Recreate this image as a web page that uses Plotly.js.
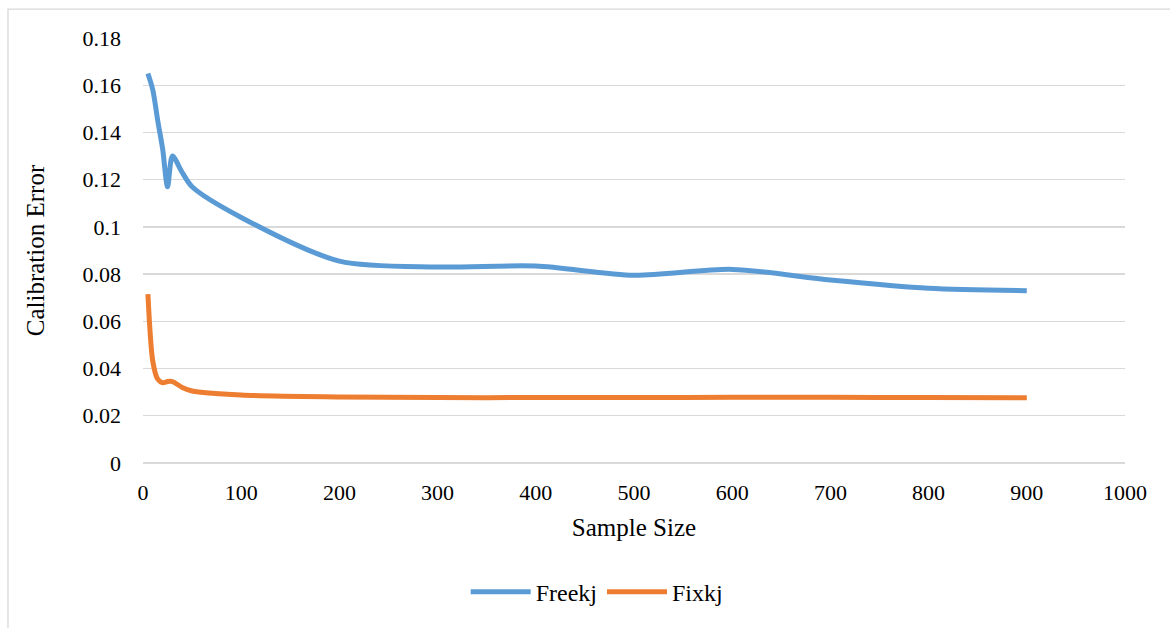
<!DOCTYPE html>
<html>
<head>
<meta charset="utf-8">
<script src="https://cdn.plot.ly/plotly-3.0.1.min.js"></script>
<style>html,body{margin:0;padding:0;background:#fff;}#chart{width:1170px;height:628px;}</style>
</head>
<body>
<div id="chart"></div>
<script>
var sampleSize = [5, 10, 15, 20, 25, 30, 40, 50, 100, 200, 300, 400, 500, 600, 700, 800, 900];
var freekj = [0.165, 0.158, 0.145, 0.133, 0.117, 0.130, 0.123, 0.117, 0.104, 0.0855, 0.083, 0.0834, 0.0795, 0.082, 0.0775, 0.074, 0.073];
var fixkj = [0.0715, 0.043, 0.0355, 0.034, 0.0345, 0.0345, 0.032, 0.0305, 0.0288, 0.028, 0.0277, 0.0277, 0.0277, 0.0278, 0.0278, 0.0277, 0.0276];
var seriesNames = ["Freekj", "Fixkj"];
var xTicks = [0, 100, 200, 300, 400, 500, 600, 700, 800, 900, 1000];
var yTicks = [0, 0.02, 0.04, 0.06, 0.08, 0.1, 0.12, 0.14, 0.16, 0.18];

var font = "Liberation Serif, Times New Roman, serif";
var traces = [
  {x: sampleSize, y: freekj, name: seriesNames[0], type: "scatter", mode: "lines",
   line: {color: "#5B9BD5", width: 5, shape: "spline", smoothing: 0.8}},
  {x: sampleSize, y: fixkj, name: seriesNames[1], type: "scatter", mode: "lines",
   line: {color: "#ED7D31", width: 5, shape: "spline", smoothing: 0.8}}
];
var layout = {
  width: 1170, height: 628,
  margin: {l: 143, r: 45, t: 38, b: 165},
  paper_bgcolor: "#fff", plot_bgcolor: "#fff",
  font: {family: font, size: 22, color: "#000"},
  xaxis: {range: [0, 1000], tickvals: xTicks, ticktext: xTicks.map(String),
    showgrid: false, zeroline: false, showline: false, ticks: "", ticklabelstandoff: 14,
    tickfont: {family: font, size: 22, color: "#000"},
    title: {text: "Sample Size", font: {family: font, size: 25, color: "#000"}, standoff: 14}},
  yaxis: {range: [0, 0.18], tickvals: yTicks, ticktext: yTicks.map(String),
    showgrid: true, gridcolor: "#d9d9d9", gridwidth: 1.3, zeroline: true, zerolinecolor: "#d9d9d9", zerolinewidth: 1.3,
    showline: false, ticks: "", ticklabelstandoff: 21,
    tickfont: {family: font, size: 22, color: "#000"},
    title: {text: "Calibration Error", font: {family: font, size: 25, color: "#000"}, standoff: 30}},
  showlegend: true,
  legend: {orientation: "h", x: 0.462, xanchor: "center", y: -0.304, yanchor: "middle",
    font: {family: font, size: 24, color: "#000"}, itemwidth: 60, traceorder: "normal"},
  shapes: [{type: "rect", xref: "paper", yref: "paper", x0: -0.1375, x1: 1.1, y0: -0.5, y1: 1.068,
    line: {color: "#d9d9d9", width: 1.3}, fillcolor: "rgba(0,0,0,0)", layer: "below"}]
};
Plotly.newPlot("chart", traces, layout, {displayModeBar: false, staticPlot: true});
</script>
</body>
</html>
